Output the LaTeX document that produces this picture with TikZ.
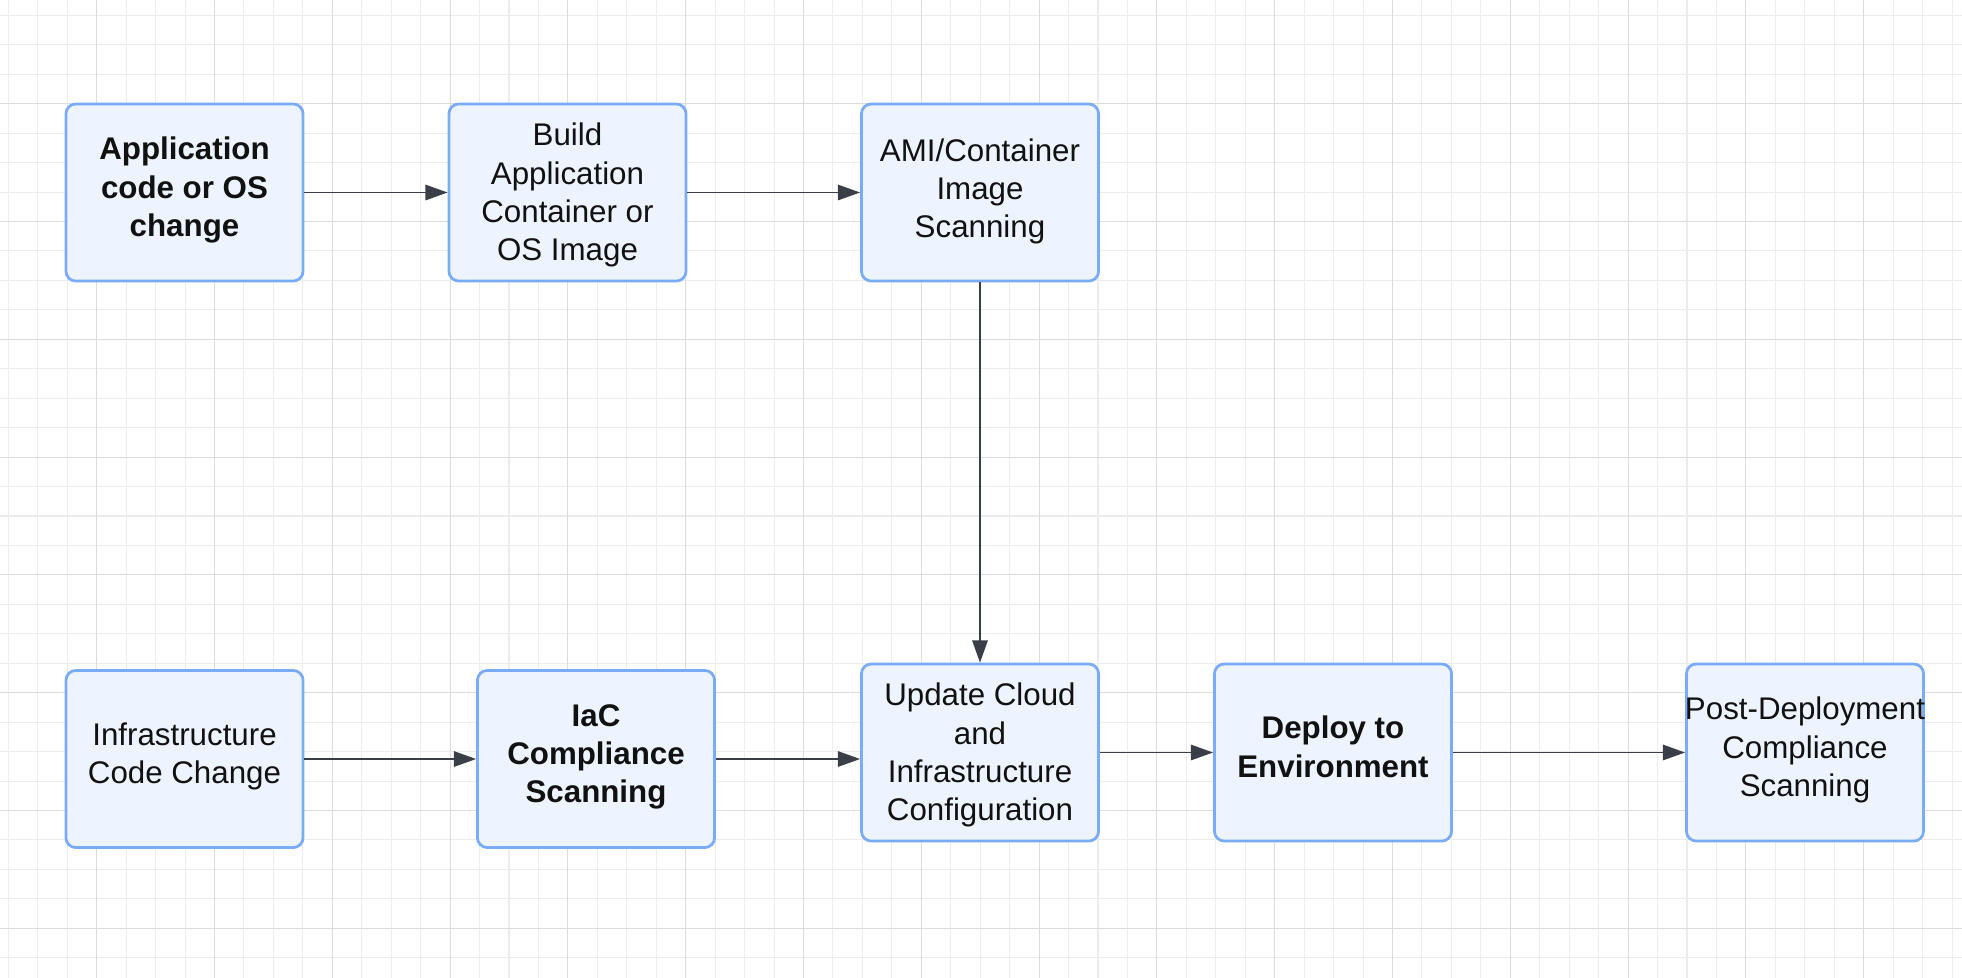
\documentclass[tikz,border=0pt]{standalone}
\usepackage{fontspec}
\setmainfont{Liberation Sans}
\usetikzlibrary{arrows.meta}
\definecolor{gridminor}{RGB}{236,236,236}
\definecolor{gridmajor}{RGB}{220,220,222}
\definecolor{boxborder}{RGB}{122,172,245}
\definecolor{boxfill}{RGB}{237,244,255}
\definecolor{arrowcol}{RGB}{58,62,70}
\definecolor{txt}{RGB}{17,17,17}
\newcommand{\boxtxt}[2][0.6pt]{\makebox[0pt]{\raisebox{#1}[\height][\depth]{\begin{tabular}{@{}c@{}}#2\end{tabular}}}}
\tikzset{
  flowbox/.style={draw=boxborder, fill=boxfill, line width=0.78pt, rounded corners=2.8pt,
    minimum width=2.37cm, minimum height=1.77cm, inner sep=0pt, align=center,
    text=txt, font=\fontsize{8.9pt}{10.9pt}\selectfont},
  boldbox/.style={flowbox, font=\fontsize{8.9pt}{10.9pt}\selectfont\bfseries},
  flowarrow/.style={draw=arrowcol, line width=0.4pt, -{Triangle[length=6.3pt,width=4.4pt]}},
  gminor/.style={draw=gridminor, line width=0.3pt},
  gmajor/.style={draw=gridmajor, line width=0.3pt}
}
\begin{document}
\begin{tikzpicture}[x=0.01cm, y=-0.01cm]
\useasboundingbox (0,0) rectangle (1962,978);
\fill[white] (0,0) rectangle (1962,978);
\begin{scope}
\clip (0,0) rectangle (1962,978);
\foreach \k in {0,...,66} { \draw[gminor] ({8.35+29.45*\k},0) -- ({8.35+29.45*\k},978); }
\foreach \k in {0,...,33} { \draw[gminor] (0,{15.35+29.45*\k}) -- (1962,{15.35+29.45*\k}); }
\foreach \k in {0,...,16} { \draw[gmajor] ({96.7+117.8*\k},0) -- ({96.7+117.8*\k},978); }
\foreach \k in {0,...,7} { \draw[gmajor] (0,{103.7+117.8*\k}) -- (1962,{103.7+117.8*\k}); }
\end{scope}

\node[boldbox] (b1) at (184.5,192.5) {\boxtxt{Application\\code or OS\\change}};
\node[flowbox] (b2) at (567.5,192.5) {\boxtxt[-0.9pt]{Build\\Application\\Container or\\OS Image}};
\node[flowbox] (b3) at (980,192.5) {\boxtxt[0.2pt]{AMI/Container\\Image\\Scanning}};
\node[flowbox] (b4) at (184.5,759) {\boxtxt{Infrastructure\\Code Change}};
\node[boldbox] (b5) at (596,759) {\boxtxt{IaC\\Compliance\\Scanning}};
\node[flowbox] (b6) at (980,752.5) {\boxtxt[-0.9pt]{Update Cloud\\and\\Infrastructure\\Configuration}};
\node[boldbox] (b7) at (1333,752.5) {\boxtxt{Deploy to\\Environment}};
\node[flowbox] (b8) at (1805,752.5) {\boxtxt{Post-Deployment\\Compliance\\Scanning}};

\draw[flowarrow] (b1.east) -- (b2.west);
\draw[flowarrow] (b2.east) -- (b3.west);
\draw[flowarrow] (b3.south) -- (b6.north);
\draw[flowarrow] (b4.east) -- (b5.west);
\draw[flowarrow] (b5.east) -- (b5.east -| b6.west);
\draw[flowarrow] (b6.east) -- (b7.west);
\draw[flowarrow] (b7.east) -- (b8.west);
\end{tikzpicture}
\end{document}
